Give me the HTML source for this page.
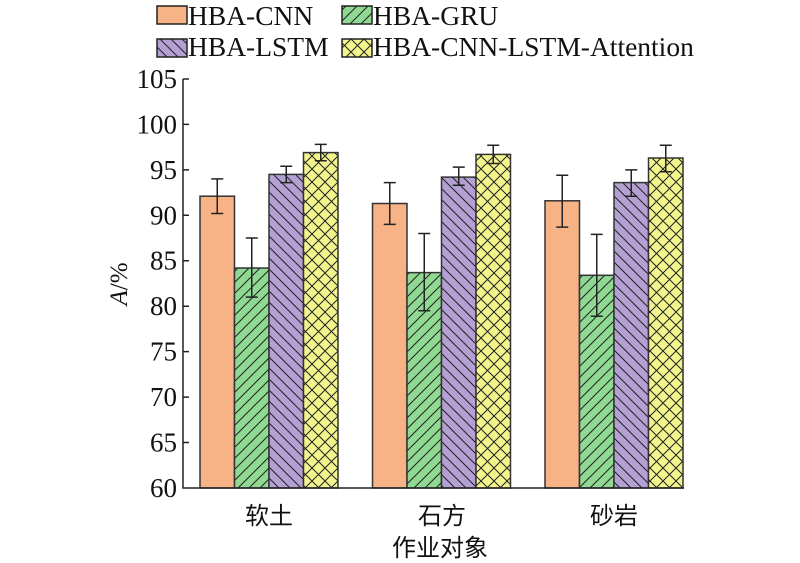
<!DOCTYPE html>
<html><head><meta charset="utf-8"><style>body{margin:0;background:#fff}svg{display:block}</style></head><body>
<svg width="800" height="563" xmlns="http://www.w3.org/2000/svg" font-family="Liberation Serif, 'Noto Serif CJK SC', serif">
<defs>
<pattern id="pg" width="11" height="11" patternUnits="userSpaceOnUse"><rect width="11" height="11" fill="#8fd993"/><path d="M-1,12 L12,-1 M-1,1 L1,-1 M10,12 L12,10" stroke="#222" stroke-width="1"/></pattern>
<pattern id="pp" width="11" height="11" patternUnits="userSpaceOnUse"><rect width="11" height="11" fill="#b5a0d4"/><path d="M-1,-1 L12,12 M10,-1 L12,1 M-1,10 L1,12" stroke="#222" stroke-width="1"/></pattern>
<pattern id="py" width="13" height="13" patternUnits="userSpaceOnUse"><rect width="13" height="13" fill="#f3f58c"/><path d="M0,0 L13,13 M13,0 L0,13" stroke="#222" stroke-width="1"/></pattern>
</defs>
<g font-size="27.5" fill="#111">
<rect x="157" y="6" width="30" height="18" fill="#f7b386" stroke="#222" stroke-width="1.5"/>
<text x="188" y="25">HBA-CNN</text>
<rect x="342" y="6" width="30" height="18" fill="url(#pg)" stroke="#222" stroke-width="1.5"/>
<text x="373" y="25">HBA-GRU</text>
<rect x="157" y="39" width="30" height="18" fill="url(#pp)" stroke="#222" stroke-width="1.5"/>
<text x="188" y="56">HBA-LSTM</text>
<rect x="342" y="39" width="30" height="18" fill="url(#py)" stroke="#222" stroke-width="1.5"/>
<text x="373" y="56">HBA-CNN-LSTM-Attention</text>
</g>
<g stroke="#333" stroke-width="1.5">
<rect x="200" y="196.2" width="34.5" height="291.8" fill="#f7b386"/>
<rect x="234.5" y="268" width="34.5" height="220" fill="url(#pg)"/>
<rect x="269" y="174.4" width="34.5" height="313.6" fill="url(#pp)"/>
<rect x="303.5" y="152.6" width="34.5" height="335.4" fill="url(#py)"/>
<rect x="372.5" y="203.5" width="34.5" height="284.5" fill="#f7b386"/>
<rect x="407" y="272.6" width="34.5" height="215.4" fill="url(#pg)"/>
<rect x="441.5" y="177.1" width="34.5" height="310.9" fill="url(#pp)"/>
<rect x="476" y="154.4" width="34.5" height="333.6" fill="url(#py)"/>
<rect x="545" y="200.8" width="34.5" height="287.2" fill="#f7b386"/>
<rect x="579.5" y="275.3" width="34.5" height="212.7" fill="url(#pg)"/>
<rect x="614" y="182.6" width="34.5" height="305.4" fill="url(#pp)"/>
<rect x="648.5" y="158" width="34.5" height="330" fill="url(#py)"/>
</g>
<g stroke="#222" stroke-width="1.5" fill="none">
<path d="M217.25,213.5V178.9M211.25,213.5H223.25M211.25,178.9H223.25"/>
<path d="M251.75,297.1V238M245.75,297.1H257.75M245.75,238H257.75"/>
<path d="M286.25,182.6V166.2M280.25,182.6H292.25M280.25,166.2H292.25"/>
<path d="M320.75,160.8V144.4M314.75,160.8H326.75M314.75,144.4H326.75"/>
<path d="M389.75,224.4V182.6M383.75,224.4H395.75M383.75,182.6H395.75"/>
<path d="M424.25,310.7V233.5M418.25,310.7H430.25M418.25,233.5H430.25"/>
<path d="M458.75,185.3V167.1M452.75,185.3H464.75M452.75,167.1H464.75"/>
<path d="M493.25,163.5V145.3M487.25,163.5H499.25M487.25,145.3H499.25"/>
<path d="M562.25,227.1V175.3M556.25,227.1H568.25M556.25,175.3H568.25"/>
<path d="M596.75,316.2V234.4M590.75,316.2H602.75M590.75,234.4H602.75"/>
<path d="M631.25,196.2V169.9M625.25,196.2H637.25M625.25,169.9H637.25"/>
<path d="M665.75,171.7V145.3M659.75,171.7H671.75M659.75,145.3H671.75"/>
<path d="M183,79 V488 H684"/>
<path d="M183,442.55H189M183,397.1H189M183,351.65H189M183,306.2H189M183,260.75H189M183,215.3H189M183,169.85H189M183,124.4H189M183,78.95H189"/>
</g>
<g font-size="27" fill="#111" text-anchor="end">
<text x="177" y="497">60</text>
<text x="177" y="451.5">65</text>
<text x="177" y="406">70</text>
<text x="177" y="360.6">75</text>
<text x="177" y="315.2">80</text>
<text x="177" y="269.7">85</text>
<text x="177" y="224.3">90</text>
<text x="177" y="178.8">95</text>
<text x="177" y="133.4">100</text>
<text x="177" y="88">105</text>
</g>
<g font-size="24" fill="#111" text-anchor="middle" font-family="'Noto Sans CJK SC', sans-serif">
<text x="269" y="524">软土</text>
<text x="442" y="524">石方</text>
<text x="614" y="524">砂岩</text>
<text x="440" y="556">作业对象</text>
</g>
<text transform="translate(127,284) rotate(-90)" font-size="25" fill="#111" text-anchor="middle"><tspan font-style="italic">A</tspan>/%</text>
</svg>
</body></html>
